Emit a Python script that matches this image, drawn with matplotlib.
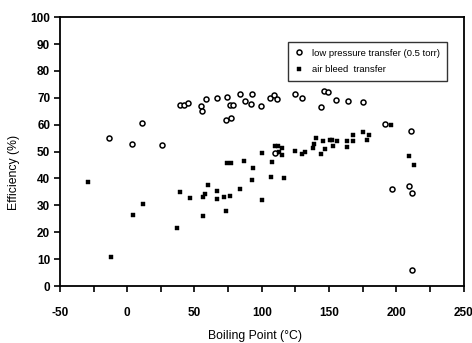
import matplotlib.pyplot as plt
from matplotlib.ticker import MultipleLocator

# low pressure transfer (0.5 torr) - open circles
lp_bp = [-13.5, 3.8, 11.2, 26, 39.1, 42.1, 45.5, 55, 55.4, 58.9, 67, 74.2,
         76.5, 78.5, 73.5, 77.2, 84.1, 87.5, 92.5, 92.2, 99.4, 106.3, 109.3,
         111.7, 109.5, 124.8, 130.2, 143.8, 146.3, 149.5, 155.4, 163.8, 175.4,
         191.5, 210.7, 197.2, 209.8, 212, 211.7]
lp_eff = [55.0, 52.7, 60.5, 52.4, 67.3, 67.3, 68.0, 66.9, 65.1, 69.5, 69.8, 70.3,
          67.2, 67.5, 61.7, 62.5, 71.3, 68.8, 71.6, 67.7, 66.9, 70.0, 70.9,
          69.6, 49.6, 71.3, 69.8, 66.6, 72.6, 72.2, 69.1, 68.9, 68.3,
          60.2, 57.6, 36.1, 37.1, 34.5, 5.9]

# air bleed transfer - filled squares
ab_bp = [-29.5, -12.2, 4.3, 11.7, 36.7, 38.9, 47, 56.2, 57.9, 59.9, 56.4, 66.8,
         66.8, 73.5, 71.7, 76.7, 74.5, 77.5, 83.8, 87, 92.5, 93.2, 100.1, 100.4,
         107, 107.5, 109.5, 112.2, 112.5, 114.9, 114.9, 116.7, 124.8, 129.8, 132.2,
         138.1, 139.1, 140.1, 144.1, 145.8, 147, 150.5, 152, 153, 156.2, 163.6,
         163.6, 167.5, 168, 175.2, 178.4, 179.4, 196.4, 209.3, 213.2]
ab_eff = [38.8, 10.7, 26.3, 30.4, 21.7, 34.8, 32.7, 33.2, 34.2, 37.5, 26.1, 35.4,
          32.3, 27.9, 33.2, 33.5, 45.8, 45.6, 36.1, 46.5, 39.4, 44.0, 32.0, 49.6,
          40.6, 46.2, 52.0, 52.0, 49.8, 48.9, 51.2, 40.0, 50.2, 49.1, 49.7,
          51.2, 53.0, 55.1, 49.0, 53.9, 50.9, 54.5, 54.5, 52.0, 53.9, 53.9,
          51.8, 53.9, 56.0, 57.2, 54.3, 56.0, 60.0, 48.3, 45.0]

plt.rcParams['font.family'] = ['Liberation Sans', 'DejaVu Sans']
plt.rcParams['axes.unicode_minus'] = False

fig = plt.figure(figsize=(4.72, 3.43), dpi=100)
ax = fig.add_axes([0.127, 0.166, 0.855, 0.784])

ax.plot(lp_bp, lp_eff, linestyle='none', marker='o', ms=3.6, mfc='white',
        mec='black', mew=1.1, label='low pressure transfer (0.5 torr)')
ax.plot(ab_bp, ab_eff, linestyle='none', marker='s', ms=2.4, mfc='black',
        mec='black', mew=0.3, label='air bleed  transfer')

ax.set_xlim(-50, 250)
ax.set_ylim(0, 100)
ax.xaxis.set_major_locator(MultipleLocator(50))
ax.xaxis.set_minor_locator(MultipleLocator(25))
ax.yaxis.set_major_locator(MultipleLocator(10))

ax.tick_params(axis='x', which='both', direction='out', length=4, width=1.2,
               pad=11, labelsize=8.5)
ax.tick_params(axis='y', direction='out', length=4, width=1.2, pad=3,
               labelsize=8.5)
for lab in ax.get_xticklabels() + ax.get_yticklabels():
    lab.set_fontweight('bold')
for s in ax.spines.values():
    s.set_linewidth(1.3)

ax.set_xlabel('Boiling Point (°C)', fontsize=8.8)
ax.set_ylabel('Efficiency (%)', fontsize=8.8)
ax.xaxis.set_label_coords(0.483, -0.165)
ax.yaxis.set_label_coords(-0.1, 0.424)

leg = ax.legend(loc='upper right', bbox_to_anchor=(0.97, 0.925), fontsize=6.8,
                frameon=True, fancybox=False, edgecolor='black',
                handletextpad=0.9, borderpad=0.7, labelspacing=0.8,
                handlelength=1.0)
leg.get_frame().set_linewidth(1.0)

plt.savefig('out.png', dpi=100)
